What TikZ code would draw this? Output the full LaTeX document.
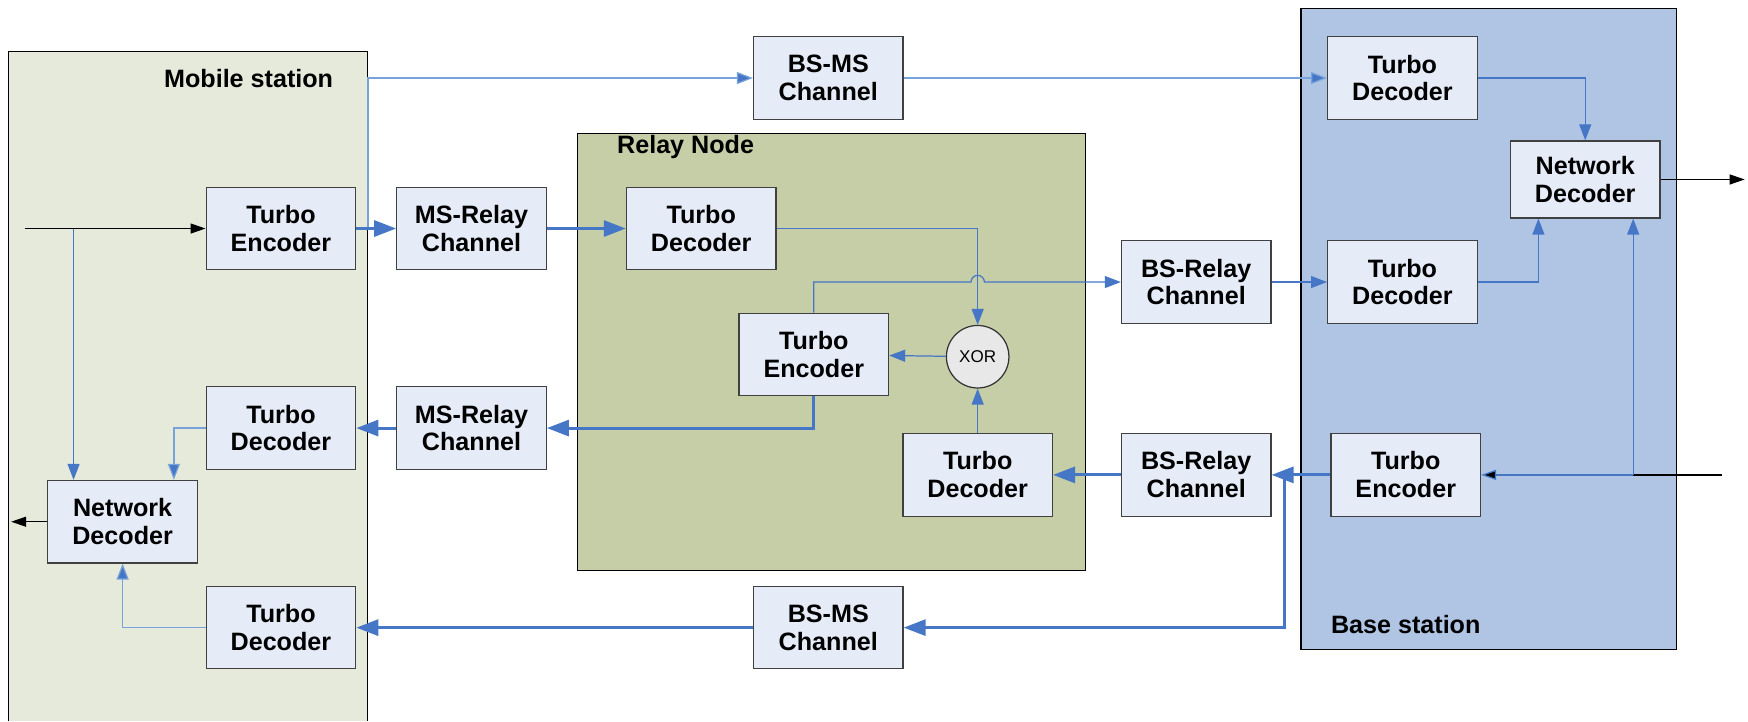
\documentclass[tikz,border=0pt]{standalone}
\usepackage{fontspec}
\setmainfont{Liberation Sans}
\usepackage{tikz}
\usetikzlibrary{calc}
\usetikzlibrary{arrows.meta}
\definecolor{msfill}{RGB}{230,234,218}
\definecolor{rnfill}{RGB}{198,206,168}
\definecolor{bsfill}{RGB}{176,197,228}
\definecolor{boxfill}{RGB}{230,236,247}
\definecolor{lineblue}{RGB}{70,118,198}
\definecolor{lightblue}{RGB}{120,162,218}

\begin{document}
\begin{tikzpicture}[x=0.0223cm,y=-0.0223cm,
    blk/.style={draw=black!75, fill=boxfill, line width=0.7pt, minimum width=2.99cm, minimum height=1.65cm, inner sep=0pt, align=center, font=\fontsize{14.3}{15.8}\selectfont\bfseries},
    lbl/.style={font=\fontsize{14.3}{16}\selectfont\bfseries, inner sep=0pt},
    thk/.style={draw=lineblue, line width=1.7pt, -{Triangle[length=0.44cm,width=0.32cm]}},
    thn/.style={draw=lineblue, line width=0.7pt, -{Triangle[length=0.32cm,width=0.24cm]}},
    thnl/.style={draw=lightblue, line width=0.7pt, -{Triangle[length=0.32cm,width=0.24cm,fill=lineblue]}},
    blkarr/.style={draw=black, line width=0.7pt, -{Triangle[length=0.3cm,width=0.2cm]}}]
    \useasboundingbox (0,0) rectangle (1568,647);
    \fill[msfill] (8,46) rectangle (330,647);
    \draw[line width=0.6pt] (8,647) |- (330,46) -- (330,647);
    \draw[fill=rnfill, line width=0.6pt] (518,120) rectangle (974,512);
    \draw[fill=bsfill, line width=0.6pt] (1167,8) rectangle (1504,583);
    \node[lbl] (mslbl) at (223,70) {Mobile station};
    \node[lbl] (rnlbl) at (615,132) {Relay Node};
    \node[lbl] (bslbl) at (1261,560) {Base station};

    \node[blk] (msenc) at (252,205) {Turbo\\Encoder};
    \node[blk] (msdec1) at (252,384) {Turbo\\Decoder};
    \node[blk] (msdec2) at (252,563) {Turbo\\Decoder};
    \node[blk] (msnet) at (110,468) {Network\\Decoder};
    \node[blk] (mrch1) at (423,205) {MS-Relay\\Channel};
    \node[blk] (mrch2) at (423,384) {MS-Relay\\Channel};
    \node[blk] (bmch1) at (743,70) {BS-MS\\Channel};
    \node[blk] (bmch2) at (743,563) {BS-MS\\Channel};
    \node[blk] (rndec1) at (629,205) {Turbo\\Decoder};
    \node[blk] (rnenc) at (730,318) {Turbo\\Encoder};
    \node[circle, draw=black!80, fill=black!9, line width=0.7pt, minimum size=1.25cm, inner sep=0pt, font=\fontsize{9.7}{11}\selectfont] (xor) at (877,320) {XOR};
    \node[blk] (rndec2) at (877,426) {Turbo\\Decoder};
    \node[blk] (brch1) at (1073,253) {BS-Relay\\Channel};
    \node[blk] (brch2) at (1073,426) {BS-Relay\\Channel};
    \node[blk] (bsdec1) at (1258,70) {Turbo\\Decoder};
    \node[blk] (bsdec2) at (1258,253) {Turbo\\Decoder};
    \node[blk, minimum height=1.54cm] (bsnet) at (1422,161) {Network\\Decoder};
    \node[blk] (bsenc) at (1261,426) {Turbo\\Encoder};

    \coordinate (msin) at (22,205);
    \coordinate (msbr) at (66,205);
    \coordinate (mstap) at (330,205);
    \coordinate (msout) at (10,468);
    \coordinate (bsin) at (1545,426);
    \coordinate (bsbr) at (1465,426);
    \coordinate (bsbr2) at (1152,426);
    \coordinate (bsout) at (1565,161);

    \draw[blkarr] (msin) -- (msenc.west);
    \draw[thn] (msbr) -- (msbr |- msnet.north);
    \draw[thnl] (mstap) |- (bmch1.west);
    \draw[thnl] (bmch1) -- (bsdec1);
    \draw[thk] (msenc) -- (mrch1);
    \draw[thk] (mrch1) -- (rndec1);
    \draw[thn] (rndec1.east) -| (xor.north);
    \draw[thn] (xor) -- (rnenc);
    \draw[thn] (rndec2) -- (xor);
    \draw[thn] (rnenc.north) |- ($(xor |- brch1.west)+(-6,0)$) arc[start angle=180, end angle=0, radius=0.134cm] -- (brch1.west);
    \draw[thk] (rnenc.south) |- (mrch2.east);
    \draw[thk] (mrch2) -- (msdec1);
    \draw[thnl] (msdec1.west) -| ($(msnet.north)+(46,0)$);
    \draw[thnl] (msdec2.west) -| (msnet.south);
    \draw[blkarr] (msnet.west) -- (msout);
    \draw[thn] (brch1) -- (bsdec2);
    \draw[thn] (bsdec1.east) -| (bsnet.north);
    \draw[thn] (bsdec2.east) -| ($(bsnet.south)+(-42,0)$);
    \draw[black, line width=0.7pt] (bsin) -- (bsbr);
    \draw[draw=lineblue, line width=0.7pt, -{Triangle[length=0.3cm,width=0.2cm,fill=black]}] (bsbr) -- (bsenc.east);
    \draw[thn] (bsbr) -- (bsbr |- bsnet.south);
    \draw[blkarr] (bsnet.east) -- (bsout);
    \draw[thk] (bsenc) -- (brch2);
    \draw[thk] (bsbr2) |- (bmch2.east);
    \draw[thk] (brch2) -- (rndec2);
    \draw[thk] (bmch2) -- (msdec2);
\end{tikzpicture}
\end{document}
